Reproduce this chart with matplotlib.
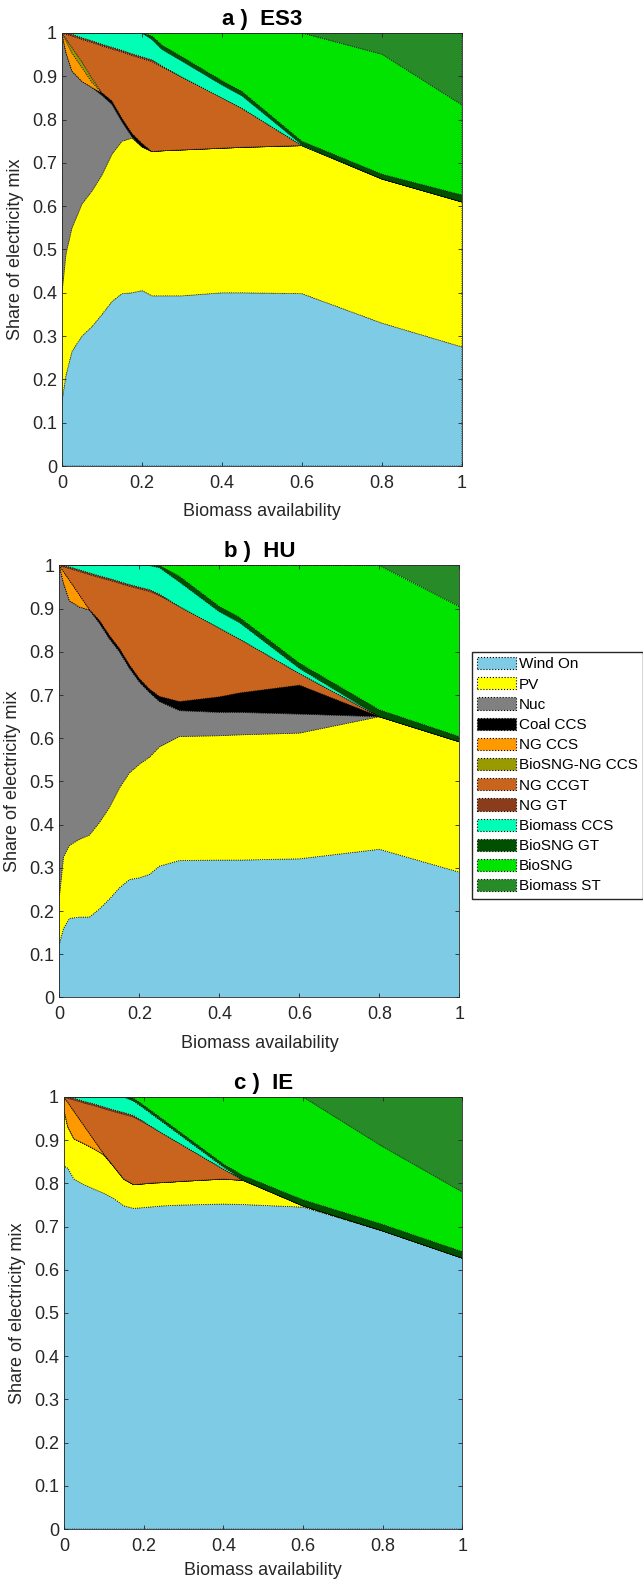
import matplotlib.pyplot as plt
from matplotlib.patches import Patch
from matplotlib.ticker import FormatStrFormatter

plt.rcParams['font.family'] = ['Liberation Sans', 'DejaVu Sans']

# biomass availability steps (shared by all three runs)
biomass = [0, 0.01, 0.025, 0.05, 0.075, 0.1, 0.125, 0.15, 0.175, 0.2, 0.225, 0.25, 0.3, 0.4, 0.45, 0.6, 0.8, 1.0]

techs = ['Wind On', 'PV', 'Nuc', 'Coal CCS', 'NG CCS', 'BioSNG-NG CCS', 'NG CCGT',
         'NG GT', 'Biomass CCS', 'BioSNG GT', 'BioSNG', 'Biomass ST']
colors = ['#7ECBE5', '#FFFF00', '#808080', '#000000', '#FF9900', '#999900', '#C9641E',
          '#8B3C1A', '#00FFB4', '#005000', '#00E400', '#278C27']

# a) ES3
a_wind = [.150, .210, .265, .300, .322, .350, .380, .398, .400, .405, .393, .393, .393, .400, .400, .398, .330, .275]
a_pv = [.250, .280, .285, .305, .313, .322, .340, .352, .357, .332, .333, .335, .337, .334, .336, .342, .333, .335]
a_nuc = [.600, .465, .362, .283, .239, .184, .115, .045, .003, 0, 0, 0, 0, 0, 0, 0, 0, 0]
a_coal = [0, 0, 0, 0, 0, .006, .008, .008, .008, .008, 0, 0, 0, 0, 0, 0, 0, 0]
a_ngccs = [0, .027, .042, .032, .012, 0, 0, 0, 0, 0, 0, 0, 0, 0, 0, 0, 0, 0]
a_mix = [0, .005, .012, .013, .009, 0, 0, 0, 0, 0, 0, 0, 0, 0, 0, 0, 0, 0]
a_ccgt = [0, .010, .027, .052, .083, .108, .120, .153, .180, .196, .208, .194, .168, .116, .090, 0, 0, 0]
a_gt = [0, .002, .004, .004, .004, .004, .004, .004, .004, .004, .004, .002, 0, 0, 0, 0, 0, 0]
a_bccs = [0, .001, .003, .011, .018, .026, .033, .040, .048, .055, .047, .038, .037, .030, .029, .002, 0, 0]
a_bgt = [0, 0, 0, 0, 0, 0, 0, 0, 0, 0, .008, .010, .010, .010, .010, .008, .011, .016]
a_bsng = [0, 0, 0, 0, 0, 0, 0, 0, 0, 0, .007, .028, .055, .110, .135, .250, .277, .208]
a_bst = [0, 0, 0, 0, 0, 0, 0, 0, 0, 0, 0, 0, 0, 0, 0, 0, .049, .166]

# b) HU
b_wind = [.125, .160, .183, .186, .186, .205, .228, .254, .273, .277, .285, .304, .317, .318, .318, .321, .343, .290]
b_pv = [.110, .165, .169, .180, .190, .200, .212, .231, .247, .263, .271, .276, .287, .288, .290, .291, .307, .302]
b_nuc = [.765, .635, .566, .538, .521, .461, .390, .315, .242, .190, .150, .105, .060, .054, .052, .044, 0, 0]
b_coal = [0, 0, 0, 0, 0, .007, .008, .008, .008, .008, .008, .012, .021, .036, .045, .067, 0, 0]
b_ngccs = [0, .026, .048, .028, .001, 0, 0, 0, 0, 0, 0, 0, 0, 0, 0, 0, 0, 0]
b_mix = [0, 0, 0, 0, 0, 0, 0, 0, 0, 0, 0, 0, 0, 0, 0, 0, 0, 0]
b_ccgt = [0, .011, .027, .054, .081, .099, .128, .151, .182, .208, .226, .233, .220, .159, .125, .027, 0, 0]
b_gt = [0, .002, .004, .004, .004, .004, .004, .004, .004, .004, .004, .004, 0, 0, 0, 0, 0, 0]
b_bccs = [0, .001, .003, .010, .017, .024, .030, .037, .044, .050, .056, .061, .057, .038, .038, .012, 0, 0]
b_bgt = [0, 0, 0, 0, 0, 0, 0, 0, 0, 0, 0, .005, .013, .012, .012, .012, .016, .012]
b_bsng = [0, 0, 0, 0, 0, 0, 0, 0, 0, 0, 0, 0, .025, .095, .120, .226, .334, .301]
b_bst = [0, 0, 0, 0, 0, 0, 0, 0, 0, 0, 0, 0, 0, 0, 0, 0, 0, .095]

# c) IE
c_wind = [.840, .835, .810, .797, .787, .777, .765, .748, .742, .744, .746, .748, .750, .752, .751, .745, .690, .627]
c_pv = [.130, .095, .093, .095, .093, .089, .074, .062, .055, .055, .055, .054, .055, .058, .056, .003, 0, 0]
c_nuc = [0, 0, 0, 0, 0, 0, 0, 0, 0, 0, 0, 0, 0, 0, 0, 0, 0, 0]
c_coal = [0, 0, 0, 0, 0, 0, 0, 0, 0, 0, 0, 0, 0, 0, 0, 0, 0, 0]
c_ngccs = [.030, .057, .064, .042, .021, .002, 0, 0, 0, 0, 0, 0, 0, 0, 0, 0, 0, 0]
c_mix = [0, 0, 0, 0, 0, 0, 0, 0, 0, 0, 0, 0, 0, 0, 0, 0, 0, 0]
c_ccgt = [0, .010, .026, .052, .079, .105, .127, .150, .156, .142, .127, .112, .082, .023, 0, 0, 0, 0]
c_gt = [0, .002, .004, .004, .004, .004, .004, .004, .004, .002, 0, 0, 0, 0, 0, 0, 0, 0]
c_bccs = [0, .001, .003, .010, .016, .023, .030, .036, .033, .031, .029, .026, .019, .005, 0, 0, 0, 0]
c_bgt = [0, 0, 0, 0, 0, 0, 0, 0, .007, .007, .007, .007, .007, .007, .011, .014, .015, .015]
c_bsng = [0, 0, 0, 0, 0, 0, 0, 0, .003, .019, .036, .053, .087, .155, .182, .238, .180, .138]
c_bst = [0, 0, 0, 0, 0, 0, 0, 0, 0, 0, 0, 0, 0, 0, 0, 0, .115, .220]

panels = [
    ('a )  ES3', [0.0964, 0.7058, 0.622, 0.2734], 8,
     [a_wind, a_pv, a_nuc, a_coal, a_ngccs, a_mix, a_ccgt, a_gt, a_bccs, a_bgt, a_bsng, a_bst]),
    ('b )  HU', [0.0925, 0.3703, 0.622, 0.2727], 8,
     [b_wind, b_pv, b_nuc, b_coal, b_ngccs, b_mix, b_ccgt, b_gt, b_bccs, b_bgt, b_bsng, b_bst]),
    ('c )  IE', [0.0995, 0.0347, 0.6197, 0.2728], 5,
     [c_wind, c_pv, c_nuc, c_coal, c_ngccs, c_mix, c_ccgt, c_gt, c_bccs, c_bgt, c_bsng, c_bst]),
]

fig = plt.figure(figsize=(6.43, 15.84), dpi=100)
axcol = '#262626'

for title, pos, xpad, layers in panels:
    ax = fig.add_axes(pos)
    ax.stackplot(biomass, *layers, colors=colors, edgecolor='k', linestyle=':', linewidth=0.6)
    ax.set_xlim(0, 1)
    ax.set_ylim(0, 1)
    ax.set_xticks([0, 0.2, 0.4, 0.6, 0.8, 1])
    ax.set_yticks([i / 10 for i in range(11)])
    ax.xaxis.set_major_formatter(FormatStrFormatter('%g'))
    ax.yaxis.set_major_formatter(FormatStrFormatter('%g'))
    ax.tick_params(direction='in', top=True, right=True, length=3, width=0.6,
                   labelsize=13, colors=axcol)
    ax.tick_params(axis='x', pad=6.5)
    for s in ax.spines.values():
        s.set_color(axcol)
        s.set_linewidth(0.6)
    ax.set_title(title, fontsize=16, fontweight='bold', pad=6)
    ax.set_xlabel('Biomass availability', fontsize=13, color=axcol, labelpad=xpad)
    ax.set_ylabel('Share of electricity mix', fontsize=13, color=axcol, labelpad=6)

handles = [Patch(facecolor=c, edgecolor='k', linestyle=':', linewidth=0.8, label=t)
           for c, t in zip(colors, techs)]
fig.legend(handles=handles, loc='upper left', bbox_to_anchor=(472 / 643, 1 - 652 / 1584),
           fontsize=11, frameon=True, fancybox=False, edgecolor=axcol, framealpha=1,
           handlelength=2.55, handleheight=0.85, handletextpad=0.2, labelspacing=0.38,
           borderpad=0.33, borderaxespad=0)

fig.savefig('out.png', dpi=100)
